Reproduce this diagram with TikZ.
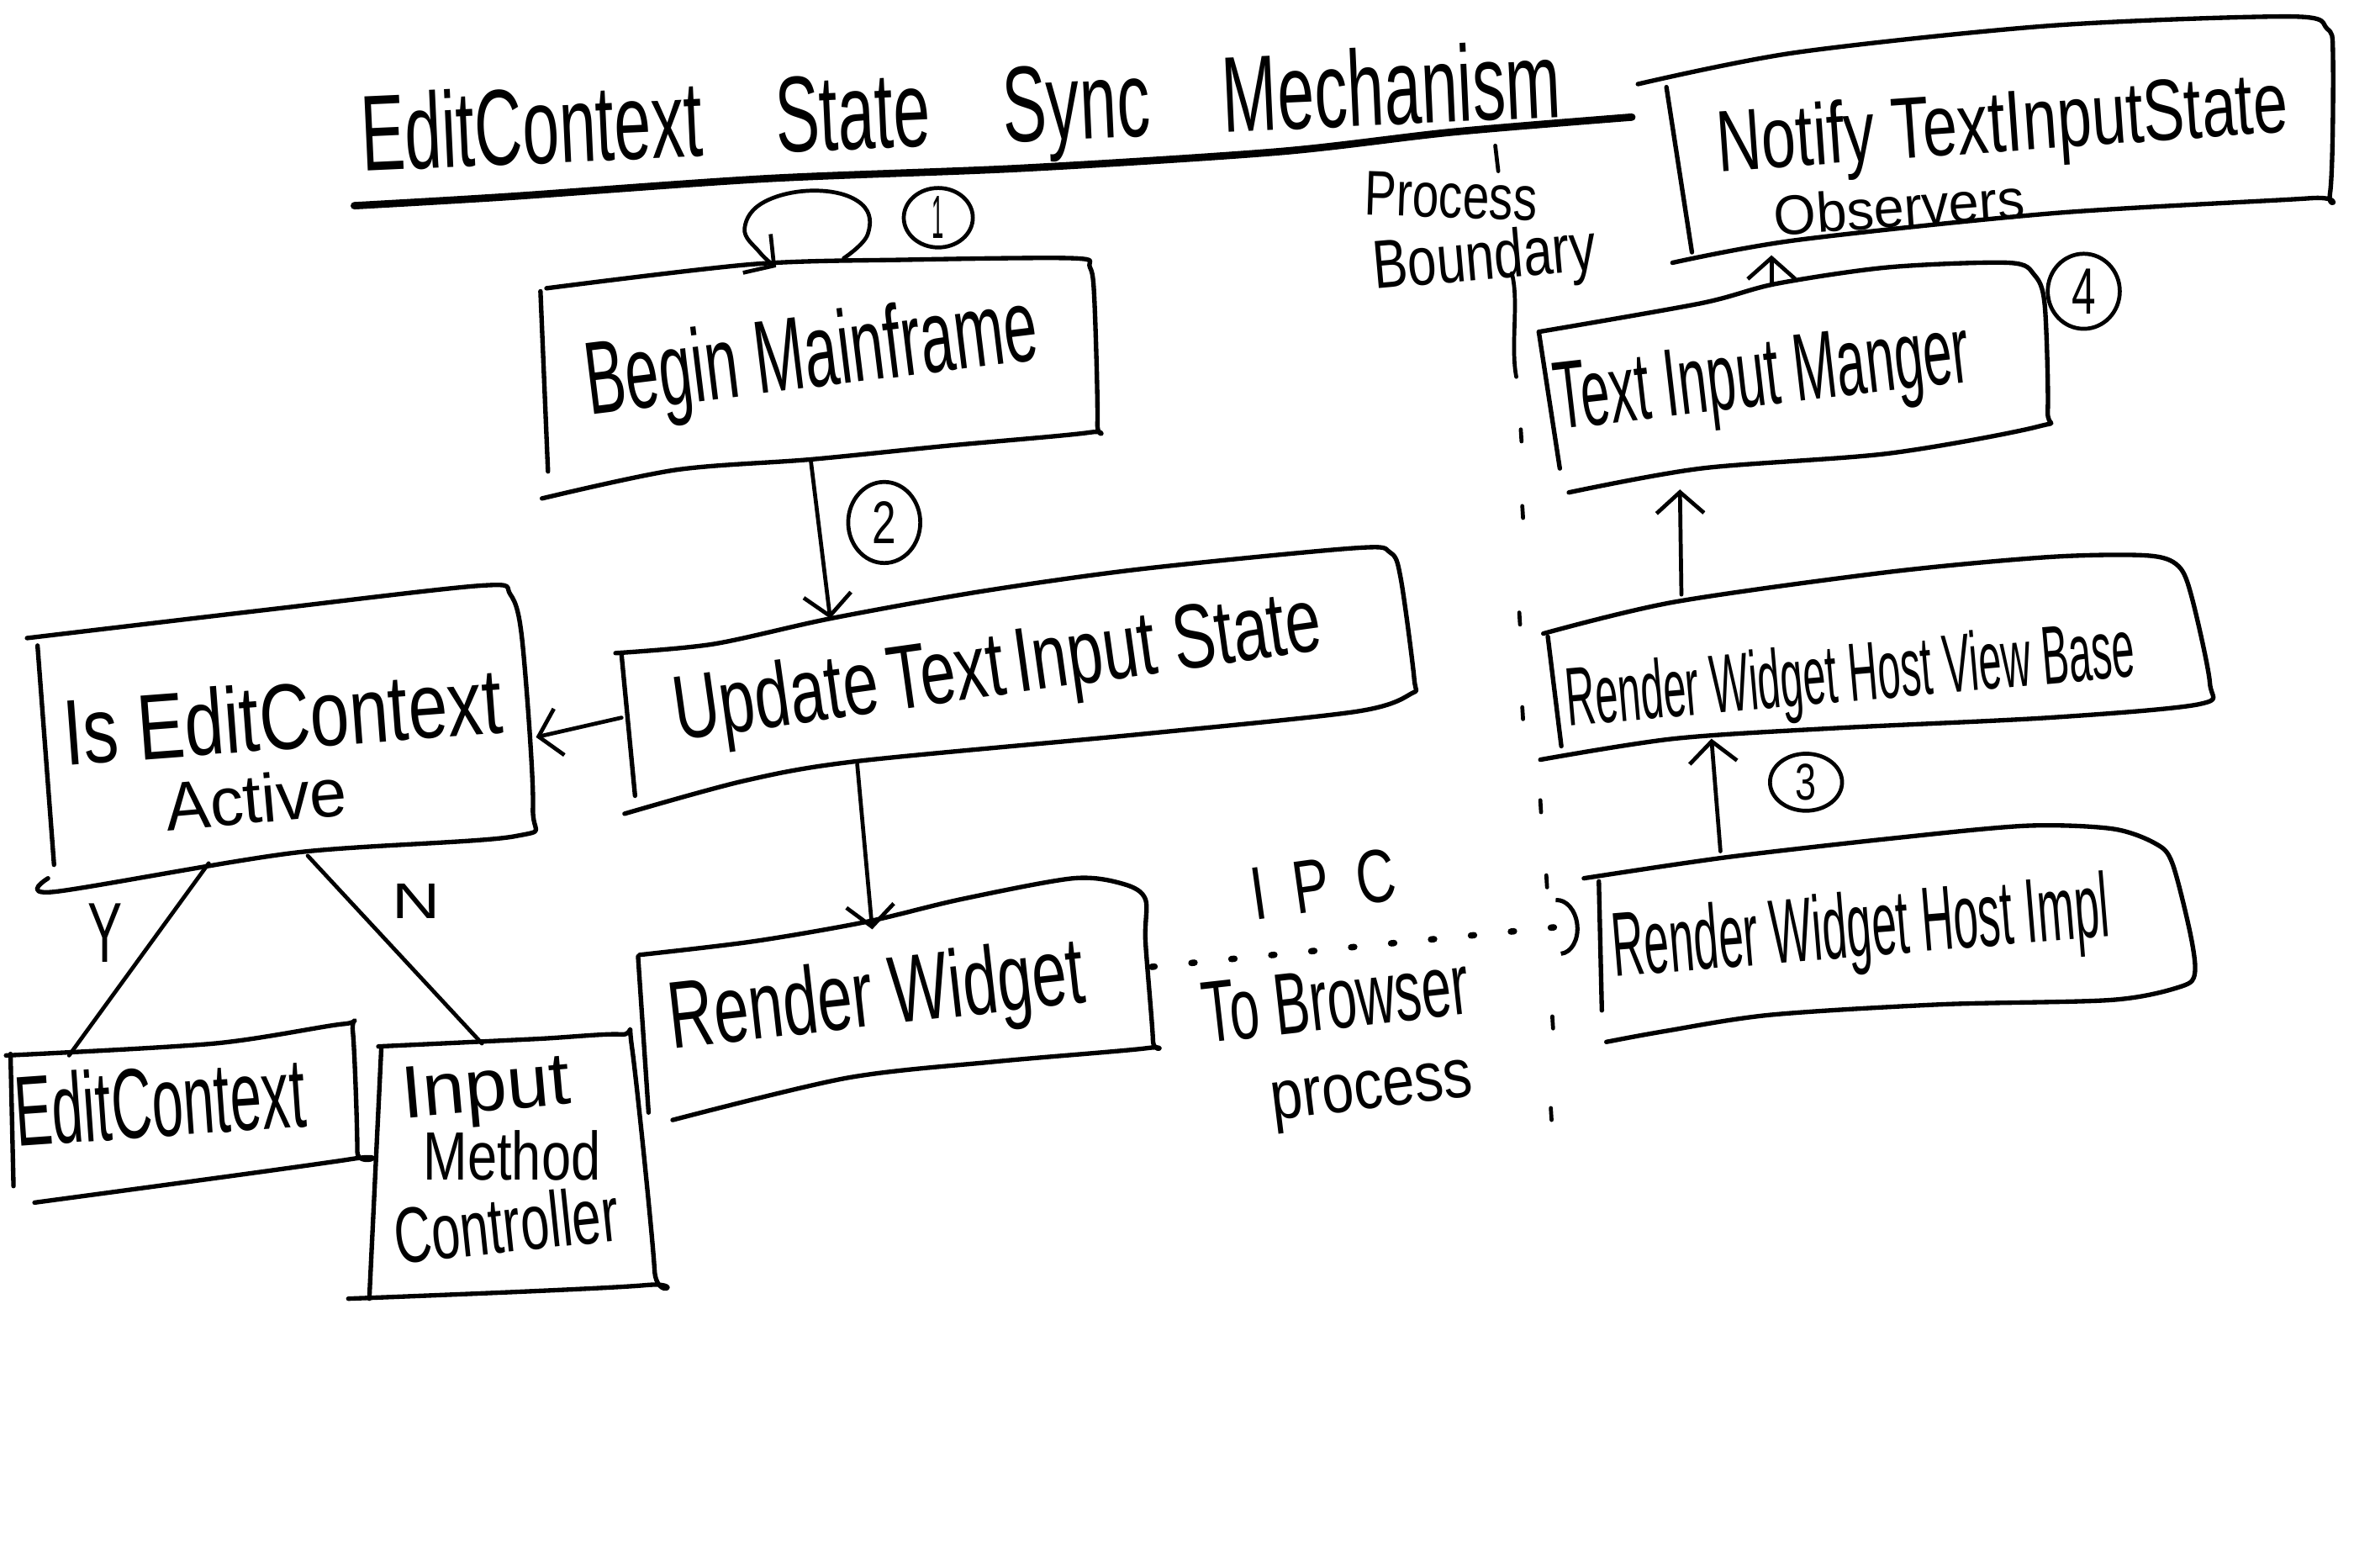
\documentclass[tikz,border=0pt]{standalone}
\usepackage{fontspec}
\setmainfont{Liberation Sans}
\usepackage{graphicx}
\usetikzlibrary{arrows.meta,shapes.geometric}
\newdimen\hwunit \hwunit=0.01cm
\newcommand\hwt[3]{\resizebox{#1\hwunit}{#2\hwunit}{#3}}
\tikzset{
  box/.style={line width=0.85pt, line cap=round, line join=round},
  lbl/.style={inner sep=0pt, anchor=base},
  arr/.style={line width=0.75pt, line cap=round, -{Straight Barb[length=4pt,width=9pt,line width=0.75pt]}},
  link/.style={line width=0.75pt, line cap=round},
  ipc/.style={line width=1.2pt, line cap=round, dash pattern=on 0.6pt off 7pt, -{Arc Barb[length=4pt,width=11pt,line width=0.8pt]}},
  numc/.style={draw, ellipse, line width=0.75pt, inner sep=0pt},
}
\begin{document}
\begin{tikzpicture}[x=0.01cm, y=-0.01cm]
\useasboundingbox (0,0) rectangle (1568,1044);
\fill[white] (0,0) rectangle (1568,1044);

% ---------- title ----------
\node[lbl, rotate=2.6] (title) at (641,96) {\hwt{800}{52}{EditContext\hspace{1.1em}State\hspace{1.1em}Sync\hspace{1.1em}Mechanism}};
\draw[box, line width=1.4pt] plot[smooth, tension=0.5] coordinates {(236,137) (338,131) (510,119) (681,112) (852,101) (967,88) (1087,78)};

% ---------- boxes ----------
% Notify
\draw[box] plot[smooth, tension=0.5] coordinates {(1091,56) (1196,35) (1367,17) (1526,11) (1550,19) (1554,37) (1552,129) (1539,132) (1368,142) (1196,160) (1114,175)};
\draw[box] (1110,58) -- (1127,168);
\node[lbl, rotate=4] (nt1) at (1335,101) {\hwt{381}{42}{Notify TextInputState}};
\node[lbl, rotate=4] (nt2) at (1266,151) {\hwt{167}{27}{Observers}};

% Begin Mainframe
\draw[box] plot[smooth, tension=0.5] coordinates {(364,192) (501,176) (604,173) (715,172) (726,178) (729,200) (731,282) (726,288) (630,297) (540,306) (450,313) (361,332)};
\draw[box] (360,194) -- (365,314);
\node[lbl, rotate=7] (bm) at (543,258) {\hwt{303}{50}{Begin Mainframe}};

% Update Text Input State
\draw[box] plot[smooth, tension=0.5] coordinates {(410,435) (475,429) (553,412) (653,394) (760,379) (903,365) (926,368) (933,385) (942,452) (940,462) (903,474) (760,489) (571,507) (496,520) (416,542)};
\draw[box] (414,436) -- (423,530);
\node[lbl, rotate=8] (ut) at (667,463) {\hwt{435}{44}{Update\,Text\,Input State}};

% Is EditContext Active
\draw[box] plot[smooth, tension=0.5] coordinates {(18,425) (179,406) (321,390) (340,396) (348,428) (355,538) (343,557) (196,568) (36,594) (32,585)};
\draw[box] (25,430) -- (36,576);
\node[lbl, rotate=4.3] (isec1) at (190,499) {\hwt{293}{45}{Is EditContext}};
\node[lbl, rotate=5] (isec2) at (172,548) {\hwt{121}{33}{Active}};

% EditContext
\draw[box] plot[smooth, tension=0.5] coordinates {(4,703) (143,695) (229,682) (235,687) (238,767) (234,772) (23,801)};
\draw[box] (7,702) -- (9,790);
\node[lbl, rotate=4] (ec) at (108,757) {\hwt{194}{48}{EditContext}};

% Input Method Controller
\draw[box] plot[smooth, tension=0.5] coordinates {(252,697) (357,692) (414,689) (421,698) (436,846) (430,856) (232,865)};
\draw[box] (254,698) -- (246,865);
\node[lbl, rotate=5] (imc1) at (325,740) {\hwt{112}{34}{Input}};
\node[lbl] (imc2) at (341,786) {\hwt{118}{33}{Method}};
\node[lbl, rotate=6] (imc3) at (339,834) {\hwt{150}{38}{Controller}};

% Render Widget
\draw[box] plot[smooth, tension=0.5] coordinates {(426,636) (502,627) (577,614) (640,599) (715,585) (749,589) (763,599) (763,627) (768,693) (765,698) (664,707) (564,718) (448,746)};
\draw[box] (425,637) -- (432,741);
\node[lbl, rotate=6.4] (rw) at (586,683) {\hwt{278}{46}{Render Widget}};

% Text Input Manger
\draw[box] plot[smooth, tension=0.5] coordinates {(1025,221) (1133,202) (1183,189) (1258,178) (1338,175) (1355,183) (1362,203) (1364,274) (1358,284) (1258,302) (1133,312) (1045,328)};
\draw[box] (1025,221) -- (1039,312);
\node[lbl, rotate=6.6] (tim) at (1176,270) {\hwt{278}{44}{Text Input Manger}};

% RenderWidgetHostViewBase
\draw[box] plot[smooth, tension=0.5] coordinates {(1028,422) (1115,401) (1258,381) (1365,371) (1430,370) (1451,377) (1460,398) (1472,455) (1465,469) (1365,478) (1222,485) (1115,492) (1026,506)};
\draw[box] (1031,424) -- (1040,497);
\node[lbl, rotate=5] (rwhvb) at (1234,467) {\hwt{380}{40}{Render Widget Host View Base}};

% RenderWidgetHostImpl
\draw[box] plot[smooth, tension=0.5] coordinates {(1055,585) (1150,571) (1264,558) (1350,550) (1407,552) (1436,562) (1447,575) (1459,622) (1462,648) (1453,657) (1407,666) (1293,669) (1179,676) (1108,687) (1070,694)};
\draw[box] (1065,587) -- (1067,673);
\node[lbl, rotate=4.7] (rwhi) at (1241,637) {\hwt{332}{44}{Render Widget Host Impl}};

% ---------- numbered circles ----------
\node[numc, minimum width=46\hwunit, minimum height=38\hwunit] (n1) at (625,145) {\hwt{8}{28}{1}};
\node[numc, minimum width=48\hwunit, minimum height=54\hwunit] (n2) at (589,348) {\hwt{16}{28}{2}};
\node[numc, minimum width=48\hwunit, minimum height=38\hwunit] (n3) at (1203,521) {\hwt{14}{24}{3}};
\node[numc, minimum width=48\hwunit, minimum height=50\hwunit] (n4) at (1388,194) {\hwt{16}{30}{4}};

% ---------- free labels ----------
\node[lbl] (ylab) at (70,641) {\hwt{23}{39}{Y}};
\node[lbl] (nlab) at (277,612) {\hwt{32}{23}{N}};
\node[lbl, rotate=8] (ipclab) at (884,606) {\hwt{97}{35}{I\hspace{0.5em}P\hspace{0.5em}C}};
\node[lbl, rotate=6.4] (tb1) at (892,685) {\hwt{178}{40}{To Browser}};
\node[lbl, rotate=7] (tb2) at (915,738) {\hwt{135}{25}{process}};
\node[lbl, rotate=-2] (pb1) at (966,145) {\hwt{115}{29}{Process}};
\node[lbl, rotate=5] (pb2) at (990,186) {\hwt{149}{33}{Boundary}};

% ---------- process boundary ----------
\draw[link] (996,97) -- (998,114);
\draw[link] (1007,182) .. controls (1012,200) and (1006,230) .. (1010,251);
\foreach \px/\py in {1013/290, 1014/341, 1012/412, 1014/475, 1026/537, 1030/587, 1034/681, 1033/742}
  \draw[link] (\px,\py-4) -- (\px+0.5,\py+4);

% ---------- connector end points ----------
\coordinate (bm-loopout) at (562,172);
\coordinate (bm-loopin) at (517,178);
\coordinate (bm-s) at (540,306);
\coordinate (ut-n) at (553,412);
\coordinate (ut-w) at (414,478);
\coordinate (isec-e) at (357,491);
\coordinate (ut-s) at (571,509);
\coordinate (rw-n) at (581,619);
\coordinate (isec-sw) at (139,575);
\coordinate (ec-n) at (46,703);
\coordinate (isec-s) at (205,570);
\coordinate (imc-n) at (321,695);
\coordinate (rw-e) at (767,644);
\coordinate (rwhi-w) at (1052,616);
\coordinate (rwhi-n) at (1146,567);
\coordinate (rwhvb-s) at (1140,492);
\coordinate (rwhvb-n) at (1120,396);
\coordinate (tim-s) at (1119,326);
\coordinate (tim-n) at (1180,189);
\coordinate (nt-s) at (1180,170);

% ---------- connectors ----------
\draw[arr] plot[smooth, tension=0.7] coordinates {(bm-loopout) (578,156) (574,136) (545,127) (510,134) (496,152) (506,168) (bm-loopin)};
\draw[arr] (bm-s) -- (ut-n);
\draw[arr] (ut-w) -- (isec-e);
\draw[arr] (ut-s) -- (rw-n);
\draw[link] (isec-sw) -- (ec-n);
\draw[link] (isec-s) -- (imc-n);
\draw[ipc] (rw-e) -- (rwhi-w);
\draw[arr] (rwhi-n) -- (rwhvb-s);
\draw[arr] (rwhvb-n) -- (tim-s);
\draw[arr] (tim-n) -- (nt-s);
\end{tikzpicture}
\end{document}
